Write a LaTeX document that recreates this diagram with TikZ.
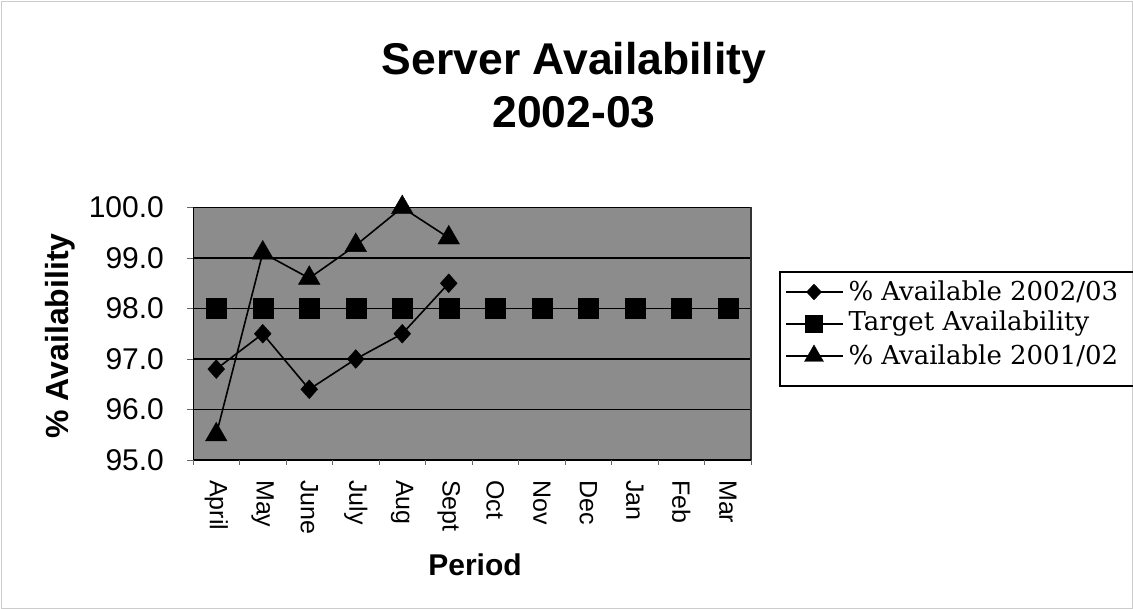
\documentclass[tikz,border=0pt]{standalone}
\usepackage{fontspec}
\setmainfont{Liberation Sans}
\newfontfamily\legfont{DejaVu Serif}
\usetikzlibrary{shapes.geometric}
\tikzset{
  diamondmark/.style={diamond,fill=black,draw=black,inner sep=0pt,minimum width=17pt,minimum height=19pt},
  squaremark/.style={rectangle,fill=black,draw=black,inner sep=0pt,minimum size=20pt},
  trianglemark/.style={regular polygon,regular polygon sides=3,fill=black,draw=black,inner sep=0pt,minimum size=25pt},
  series/.style={line width=1.6pt,black},
  grid line/.style={line width=1.5pt,black},
  ylab/.style={anchor=east,font=\fontsize{30}{32}\selectfont},
  xlab/.style={rotate=-90,anchor=west,font=\fontsize{25}{27}\selectfont},
  legtext/.style={anchor=west,font=\legfont\fontsize{26}{28}\selectfont},
  titletext/.style={anchor=base,font=\bfseries\fontsize{44.5}{53}\selectfont},
}
\begin{document}
\begin{tikzpicture}[x=1pt,y=-1pt]
\useasboundingbox (0,0) rectangle (1133,609);
\draw[gray!40,line width=0.6pt] (1,1) rectangle (1132,608);
% title
\node[titletext] (title1) at (574,75) {Server Availability};
\node[titletext] (title2) at (574,128) {2002-03};
% y-axis title
\node[rotate=90,font=\bfseries\fontsize{32}{34}\selectfont] (ytitle) at (60,336) {\% Availability};
% x-axis title
\node[font=\bfseries\fontsize{30}{32}\selectfont] (xtitle) at (475,565) {Period};
\begin{scope}[shift={(193,460)},x=46.5pt,y=50.5pt]
  \fill[black!45] (0,0) rectangle (12,5);
  \foreach \k in {1,2,3,4} \draw[grid line] (0,\k) -- (12,\k);
  \draw[line width=1pt] (0,0) -- (0,5);
  \draw[line width=1.8pt] (0,5) -- (12,5);
  \draw[line width=2.4pt,black!80] (12,5) -- (12,0);
  \draw[line width=1.5pt] (0,0) -- (12,0);
  \foreach \k in {0,...,12} \draw[black!60,line width=0.6pt] (\k,0) -- (\k,-0.1);
  \foreach \k in {0,...,5} \draw[black!60,line width=0.6pt] (0,\k) -- (-0.12,\k);
  \foreach \k/\t in {0/95.0,1/96.0,2/97.0,3/98.0,4/99.0,5/100.0}
    \node[ylab] (yl\k) at (-0.55,\k) {\t};
  \foreach \i/\m in {1/April,2/May,3/June,4/July,5/Aug,6/Sept,7/Oct,8/Nov,9/Dec,10/Jan,11/Feb,12/Mar}
    \node[xlab] (xl\i) at (\i-0.5,-0.33) {\m};
  % data coordinates
  \foreach \i/\v in {1/96.8,2/97.5,3/96.4,4/97.0,5/97.5,6/98.5}
    \coordinate (d\i) at (\i-0.5,\v-95);
  \foreach \i/\v in {1/95.5,2/99.1,3/98.6,4/99.25,5/100.0,6/99.4}
    \coordinate (t\i) at (\i-0.5,\v-95);
  \foreach \i in {1,...,12}
    \coordinate (s\i) at (\i-0.5,3);
  \draw[series] (s1) -- (s2) -- (s3) -- (s4) -- (s5) -- (s6) -- (s7) -- (s8) -- (s9) -- (s10) -- (s11) -- (s12);
  \draw[series] (d1) -- (d2) -- (d3) -- (d4) -- (d5) -- (d6);
  \draw[series] (t1) -- (t2) -- (t3) -- (t4) -- (t5) -- (t6);
  \foreach \i in {1,...,12} \node[squaremark] (sm\i) at (s\i) {};
  \foreach \i in {1,...,6} \node[diamondmark] (dm\i) at (d\i) {};
  \foreach \i in {1,...,6} \node[trianglemark] (tm\i) at (t\i) {};
\end{scope}
% legend
\coordinate (lgA) at (1140,272);
\coordinate (lgB) at (780,272);
\coordinate (lgC) at (780,386);
\coordinate (lgD) at (1140,386);
\draw[line width=1.1pt] (lgA) -- (lgB) -- (lgC) -- (lgD);
\foreach \y/\n in {292/1,324/2,356/3} {
  \coordinate (la\n) at (786,\y);
  \coordinate (lb\n) at (843,\y);
  \coordinate (lm\n) at (814,\y);
}
\draw[series] (la1) -- (lb1);
\draw[series] (la2) -- (lb2);
\draw[series] (la3) -- (lb3);
\node[diamondmark,minimum width=15pt,minimum height=16pt] (lmk1) at (lm1) {};
\node[squaremark,minimum size=17pt] (lmk2) at (lm2) {};
\node[trianglemark,minimum size=22pt] (lmk3) at (lm3) {};
\node[legtext] (lt1) at (845,292) {\% Available 2002/03};
\node[legtext] (lt2) at (845,324) {Target Availability};
\node[legtext] (lt3) at (845,356) {\% Available 2001/02};
\end{tikzpicture}
\end{document}
